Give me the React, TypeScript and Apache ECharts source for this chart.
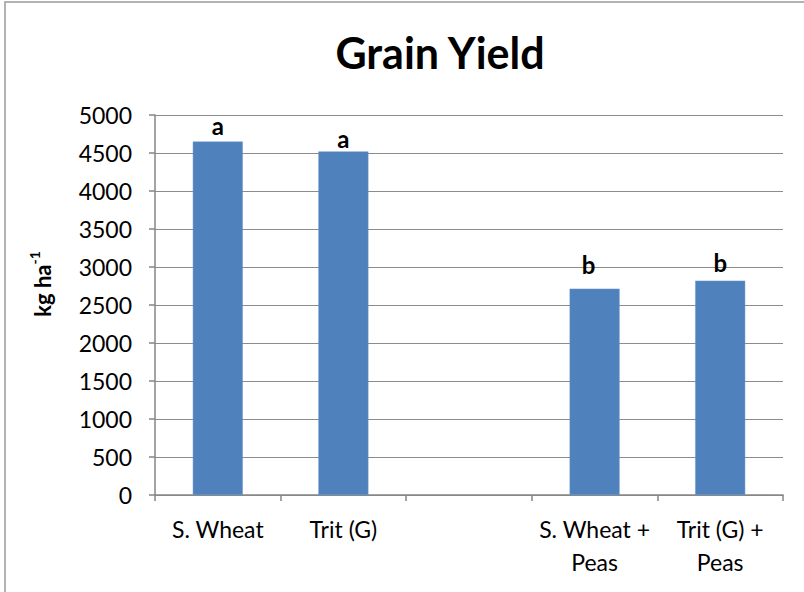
import React, { useEffect, useRef } from "react";
import * as echarts from "echarts";

const categories = ["S. Wheat", "Trit (G)", "", "S. Wheat +\nPeas", "Trit (G) +\nPeas"];
const yieldValues: (number | null)[] = [4650, 4520, null, 2715, 2820];
const significance = ["a", "a", "", "b", "b"];
const yTicks = [0, 500, 1000, 1500, 2000, 2500, 3000, 3500, 4000, 4500, 5000];

const labelDistance = [4, 1, 0, 12, 6];
const labelShift = [0, 0, 0, -6, 0];

const FONT = "Lato, 'Open Sans', sans-serif";

export default function App() {
  const ref = useRef<HTMLDivElement>(null);
  useEffect(() => {
    if (!ref.current) return;
    const chart = echarts.init(ref.current, null, { renderer: "svg" });
    const data = yieldValues.map((v, i) => ({
      value: v,
      label: {
        show: !!significance[i],
        position: "top",
        distance: labelDistance[i],
        offset: [labelShift[i], 0],
        formatter: () => significance[i],
      },
    }));
    chart.setOption({
      animation: false,
      backgroundColor: "#ffffff",
      title: {
        text: "Grain Yield",
        left: 435,
        top: 26,
        textAlign: "center",
        textStyle: { fontFamily: FONT, fontWeight: "bold", fontSize: 43, color: "#000" },
      },
      graphic: [
        {
          type: "rect",
          shape: { x: 5, y: 2, width: 1000, height: 1000 },
          style: { fill: "none", stroke: "#9a9a9a", lineWidth: 1.5 },
          silent: true,
        },
        {
          type: "text",
          x: 42,
          y: 284,
          rotation: Math.PI / 2,
          style: {
            text: "{b|kg ha}{s|-1}",
            align: "center",
            verticalAlign: "middle",
            fill: "#000",
            rich: {
              b: { fontFamily: FONT, fontWeight: "bold", fontSize: 22, fill: "#000", lineHeight: 30 },
              s: { fontFamily: FONT, fontWeight: "bold", fontSize: 14, fill: "#000", lineHeight: 30, verticalAlign: "top", padding: [0, 0, 10, 0] },
            },
          },
        },
      ],
      grid: { left: 155, right: 21, top: 115, bottom: 97, containLabel: false },
      xAxis: {
        type: "category",
        data: categories,
        axisLine: { lineStyle: { color: "#868686", width: 1.5 } },
        axisTick: { show: true, length: 6, lineStyle: { color: "#868686", width: 1.5 } },
        axisLabel: {
          interval: 0,
          margin: 17,
          fontFamily: FONT,
          fontSize: 23,
          lineHeight: 33,
          color: "#000",
          align: "center",
        },
      },
      yAxis: {
        type: "value",
        min: 0,
        max: 5000,
        interval: 500,
        axisLine: { show: true, lineStyle: { color: "#868686", width: 1.5 } },
        axisTick: { show: true, length: 6, lineStyle: { color: "#868686", width: 1.5 } },
        axisLabel: {
          margin: 23,
          fontFamily: FONT,
          fontSize: 23,
          color: "#000",
          formatter: (v: number) => (yTicks.includes(v) ? String(v) : ""),
        },
        splitLine: { show: true, lineStyle: { color: "#8c8c8c", width: 1 } },
      },
      series: [
        {
          type: "bar",
          data,
          barWidth: 50,
          itemStyle: { color: "#4F81BD", borderColor: "#6b98cf", borderWidth: 0.5 },
          label: {
            fontFamily: FONT,
            fontWeight: "bold",
            fontSize: 24,
            color: "#000",
          },
        },
      ],
    });
    return () => chart.dispose();
  }, []);
  return <div ref={ref} style={{ position: "fixed", left: 0, top: 0, width: 804, height: 592 }} />;
}
